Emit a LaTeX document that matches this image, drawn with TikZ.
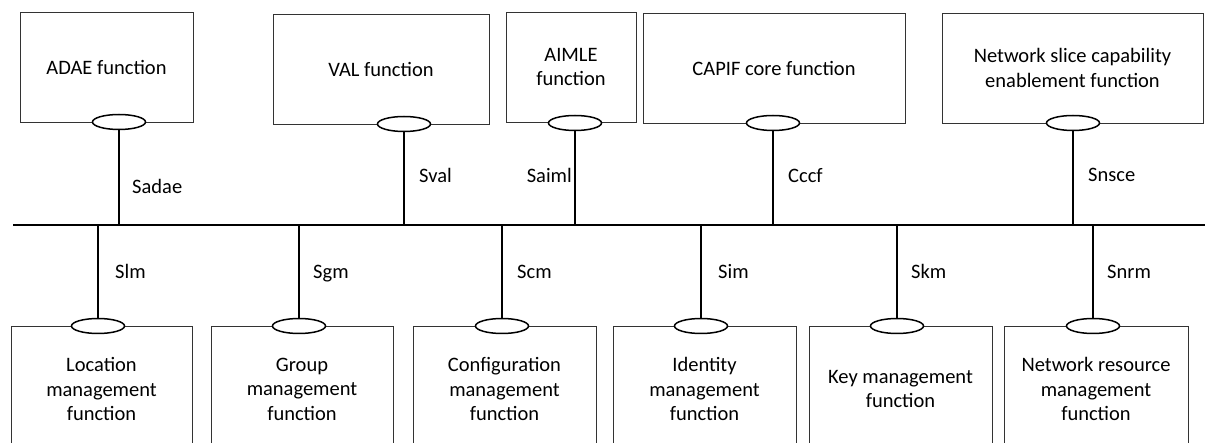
\documentclass[tikz,border=0pt]{standalone}
\usepackage{fontspec}
\setmainfont{Carlito}
\usetikzlibrary{shapes.geometric}
\begin{document}
\begin{tikzpicture}[x=1pt,y=-1pt,
  fbox/.style={draw=black!80, line width=0.8pt, rectangle, inner sep=0pt, minimum height=110pt, align=center, font=\fontsize{20.5}{24.5}\selectfont},
  bbox/.style={fbox, minimum height=126pt},
  port/.style={draw=black, line width=1.5pt, ellipse, fill=white, minimum width=53pt, minimum height=15pt, inner sep=0pt},
  conn/.style={draw=black, line width=1.5pt},
  lbl/.style={font=\fontsize{20.5}{24}\selectfont, inner sep=0pt}]
\useasboundingbox (0,0) rectangle (1205,443);
\clip (0,0) rectangle (1205,443);
% top boxes
\node[fbox, minimum width=173pt] (adae) at (106.5,67) {ADAE function};
\node[fbox, minimum width=216pt] (val) at (381,69) {VAL function};
\node[fbox, minimum width=130pt] (aimle) at (571,67) {AIMLE\\function};
\node[fbox, minimum width=262pt] (capif) at (774,68) {CAPIF core function};
\node[fbox, minimum width=261pt] (nsce) at (1072.5,68) {Network slice capability\\enablement function};
% bottom boxes
\node[bbox, minimum width=181pt] (loc) at (101.5,389) {Location\\management\\function};
\node[bbox, minimum width=182pt] (grp) at (302,389) {Group\\management\\function};
\node[bbox, minimum width=183pt] (cfg) at (504.5,389) {Configuration\\management\\function};
\node[bbox, minimum width=183pt] (idm) at (704.5,389) {Identity\\management\\function};
\node[bbox, minimum width=183pt] (key) at (900.5,389) {Key management\\function};
\node[bbox, minimum width=184pt] (nrm) at (1096,389) {Network resource\\management\\function};
% bus
\coordinate (busL) at (13,225);
\coordinate (busR) at (1205,225);
\draw[conn] (busL) -- (busR);
% top ports
\node[port] (p1) at (119,122) {};
\node[port] (p2) at (404,124) {};
\node[port] (p3) at (575,123) {};
\node[port] (p4) at (773,123) {};
\node[port] (p5) at (1073,123) {};
% bottom ports
\node[port] (q1) at (98,326) {};
\node[port] (q2) at (299,326) {};
\node[port] (q3) at (502,326) {};
\node[port] (q4) at (701,326) {};
\node[port] (q5) at (897,326) {};
\node[port] (q6) at (1093,326) {};
% connectors
\foreach \p in {p1,p2,p3,p4,p5} {\draw[conn] (\p.south) -- (\p.south |- busL);}
\foreach \q in {q1,q2,q3,q4,q5,q6} {\draw[conn] (\q.north) -- (\q.north |- busL);}
% labels
\node[lbl, anchor=base west] (l1) at (132,194) {Sadae};
\node[lbl, anchor=base west] (l2) at (419,183) {Sval};
\node[lbl, anchor=base east] (l3) at (572,183) {Saiml};
\node[lbl, anchor=base west] (l4) at (788,183) {Cccf};
\node[lbl, anchor=base west] (l5) at (1088,182) {Snsce};
\node[lbl, anchor=base west] (m1) at (115,279) {Slm};
\node[lbl, anchor=base west] (m2) at (313,279) {Sgm};
\node[lbl, anchor=base west] (m3) at (517,279) {Scm};
\node[lbl, anchor=base west] (m4) at (718,279) {Sim};
\node[lbl, anchor=base west] (m5) at (911,279) {Skm};
\node[lbl, anchor=base west] (m6) at (1107,279) {Snrm};
\end{tikzpicture}
\end{document}
